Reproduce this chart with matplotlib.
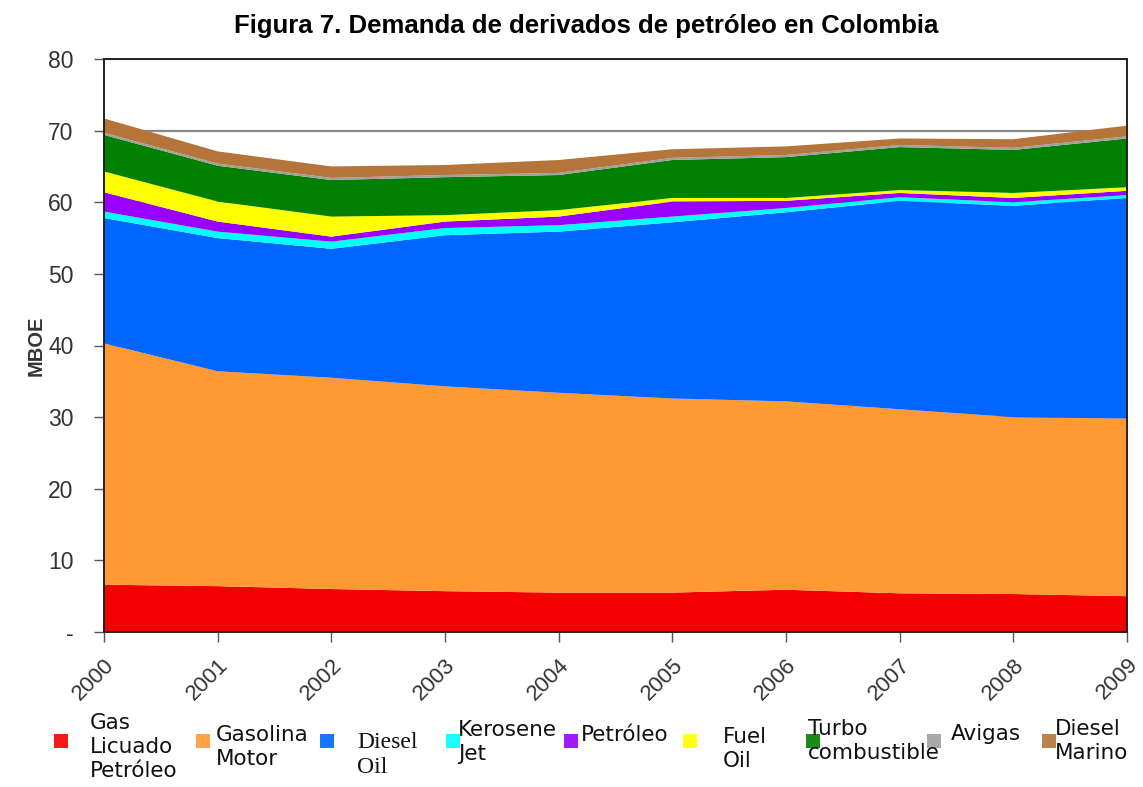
import matplotlib.pyplot as plt
from matplotlib.patches import Rectangle

years = [2000, 2001, 2002, 2003, 2004, 2005, 2006, 2007, 2008, 2009]

# demanda por derivado, MBOE
glp = [6.6, 6.4, 6.0, 5.7, 5.5, 5.5, 5.9, 5.4, 5.3, 5.0]
gasolina = [33.7, 30.0, 29.5, 28.6, 27.9, 27.1, 26.3, 25.7, 24.7, 24.8]
diesel = [17.5, 18.6, 18.0, 21.1, 22.5, 24.6, 26.4, 29.1, 29.5, 30.8]
kerosene = [0.9, 0.9, 1.0, 1.0, 0.9, 0.8, 0.6, 0.5, 0.5, 0.4]
petroleo = [2.7, 1.4, 0.7, 0.9, 1.2, 2.1, 1.0, 0.6, 0.6, 0.6]
fuel_oil = [2.9, 2.8, 2.8, 0.9, 0.9, 0.5, 0.4, 0.4, 0.7, 0.5]
turbo = [5.1, 5.0, 5.1, 5.3, 4.9, 5.3, 5.7, 6.0, 6.0, 6.8]
avigas = [0.3, 0.3, 0.3, 0.3, 0.3, 0.3, 0.3, 0.3, 0.3, 0.3]
diesel_marino = [2.0, 1.7, 1.6, 1.4, 1.8, 1.2, 1.2, 0.9, 1.2, 1.5]

series = [glp, gasolina, diesel, kerosene, petroleo, fuel_oil, turbo, avigas, diesel_marino]
colors = ['#f50000', '#ff9933', '#0066ff', '#00ffff', '#9900ff',
          '#ffff00', '#008000', '#a0a0a0', '#b5743a']
labels = ['Gas\nLicuado\nPetróleo', 'Gasolina\nMotor', 'Diesel\nOil', 'Kerosene\nJet',
          'Petróleo', 'Fuel\nOil', 'Turbo\ncombustible', 'Avigas', 'Diesel\nMarino']
y_ticks = [0, 10, 20, 30, 40, 50, 60, 70, 80]
y_ticklabels = ['-', '10', '20', '30', '40', '50', '60', '70', '80']

# legend placement (figure pixels): square x, text x, text center y
sq_x = [61, 203, 327, 453, 571, 690, 813, 934, 1049]
txt_x = [90, 216, 357, 458, 581, 723, 808, 951, 1055]
txt_y = [747, 747, 755, 742, 735, 749, 741, 734, 741]
sq_y = 741

W, H = 1143, 787
fig = plt.figure(figsize=(W / 100, H / 100), dpi=100)
ax = fig.add_axes([104 / W, 1 - 632 / H, (1127 - 104) / W, (632 - 59) / H])

ax.stackplot(years, *series, colors=colors, linewidth=0, zorder=2)

ax.set_xlim(2000, 2009)
ax.set_ylim(0, 80)
ax.set_yticks(y_ticks)
ax.set_yticklabels(y_ticklabels, fontsize=16.5, color='#333333', family='Liberation Sans')
ax.set_xticks(years)
ax.set_xticklabels([str(y) for y in years], rotation=45, ha='right', rotation_mode='anchor',
                   fontsize=16, color='#333333', family='Liberation Sans')
ax.tick_params(axis='both', direction='out', length=7, width=1, color='#555555')
ax.tick_params(axis='y', pad=15)
ax.tick_params(axis='x', pad=9)

ax.yaxis.grid(True, color='#8a8a8a', linewidth=1.6)
ax.set_axisbelow(True)
for side in ['left', 'top', 'right', 'bottom']:
    ax.spines[side].set_color('#222222')
    ax.spines[side].set_linewidth(1.4)

ax.set_ylabel('MBOE', fontsize=14.5, fontweight='bold', color='#333333',
              family='Liberation Sans', labelpad=2)

fig.text(586 / W, 1 - 26 / H, 'Figura 7. Demanda de derivados de petróleo en Colombia',
         ha='center', va='center', fontsize=18.5, fontweight='bold', family='Liberation Sans')

# custom legend row under the axis
for i, lab in enumerate(labels):
    fig.patches.append(Rectangle(((sq_x[i] - 7) / W, 1 - (sq_y + 7) / H), 14 / W, 14 / H,
                                 transform=fig.transFigure, facecolor=colors[i],
                                 edgecolor='none', alpha=0.9))
    if lab == 'Diesel\nOil':
        fig.text(txt_x[i] / W, 1 - txt_y[i] / H, lab, ha='left', va='center',
                 fontsize=17, family='Liberation Serif', color='#111111', linespacing=1.2)
    else:
        fig.text(txt_x[i] / W, 1 - txt_y[i] / H, lab, ha='left', va='center',
                 fontsize=15.5, family='DejaVu Sans', color='#111111', linespacing=1.25)

fig.savefig('out.png', dpi=100)
